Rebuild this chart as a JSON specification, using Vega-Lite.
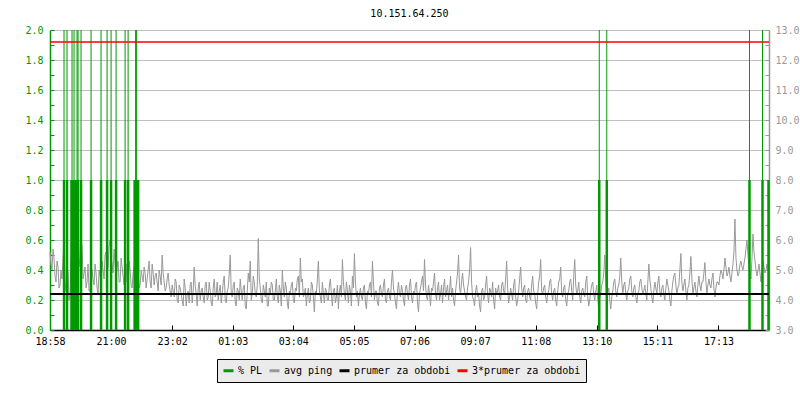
{
  "$schema": "https://vega.github.io/schema/vega-lite/v6.json",
  "width": 719,
  "height": 300,
  "autosize": {"type": "none"},
  "padding": {"left": 50, "top": 30, "right": 31, "bottom": 70},
  "background": "white",
  "title": {"text": "10.151.64.250", "font": "'DejaVu Sans Mono', monospace", "fontSize": 10, "fontWeight": "normal", "color": "black", "anchor": "middle", "offset": 6},
  "config": {"view": {"stroke": null}, "font": "'DejaVu Sans Mono', monospace"},
  "datasets": {
    "ping": [
      {"t":0,"p":5.6},{"t":4,"p":5.0},{"t":8,"p":5.4},{"t":12,"p":4.6},{"t":16,"p":5.1},{"t":20,"p":4.5},
      {"t":24,"p":4.7},{"t":28,"p":5.9},{"t":32,"p":4.3},{"t":36,"p":4.9},{"t":40,"p":4.2},{"t":44,"p":5.6},{"t":48,"p":4.6},
      {"t":52,"p":5.3},{"t":56,"p":6.6},{"t":60,"p":5.1},{"t":64,"p":5.8},
      {"t":68,"p":4.9},{"t":72,"p":4.4},{"t":76,"p":5.2},{"t":80,"p":4.3},{"t":84,"p":5.0},{"t":88,"p":4.5},{"t":92,"p":4.9},{"t":96,"p":4.2},{"t":100,"p":4.8},
      {"t":104,"p":5.3},{"t":108,"p":4.7},{"t":112,"p":5.6},{"t":116,"p":5.1},{"t":120,"p":6.0},{"t":124,"p":5.2},{"t":128,"p":5.7},
      {"t":132,"p":4.8},{"t":136,"p":5.3},{"t":140,"p":4.6},{"t":144,"p":5.1},{"t":148,"p":4.5},{"t":152,"p":5.2},{"t":156,"p":4.7},{"t":160,"p":5.0},{"t":164,"p":4.4},{"t":168,"p":5.1},{"t":172,"p":4.6},{"t":176,"p":4.9},{"t":180,"p":4.5},
      {"t":184,"p":4.8},{"t":188,"p":5.1},{"t":192,"p":4.4},{"t":196,"p":5.0},{"t":200,"p":4.6},{"t":204,"p":5.2},{"t":208,"p":4.5},{"t":212,"p":4.9},{"t":216,"p":4.3},{"t":220,"p":4.8},{"t":224,"p":5.5},{"t":228,"p":4.6},{"t":232,"p":4.4},{"t":236,"p":4.9},{"t":240,"p":4.3},
      {"t":244,"p":4.5},{"t":248,"p":4.1},{"t":252,"p":4.6},{"t":256,"p":3.9},{"t":260,"p":4.4},{"t":264,"p":4.0},{"t":268,"p":4.7},{"t":272,"p":3.8},{"t":276,"p":4.3},{"t":280,"p":4.5},{"t":284,"p":3.9},{"t":288,"p":5.1},{"t":292,"p":4.2},{"t":296,"p":4.4},{"t":300,"p":4.0},
      {"t":304,"p":4.4},{"t":308,"p":3.9},{"t":312,"p":4.6},{"t":316,"p":4.1},{"t":320,"p":4.3},{"t":324,"p":3.8},{"t":328,"p":4.7},{"t":332,"p":4.2},{"t":336,"p":4.0},{"t":340,"p":4.5},
      {"t":344,"p":4.2},{"t":348,"p":4.8},{"t":352,"p":3.9},{"t":356,"p":4.4},{"t":360,"p":5.5},{"t":364,"p":4.1},{"t":368,"p":4.6},{"t":372,"p":3.8},{"t":376,"p":4.3},{"t":380,"p":4.7},
      {"t":384,"p":4.0},{"t":388,"p":4.5},{"t":392,"p":3.7},{"t":396,"p":4.9},{"t":400,"p":5.3},{"t":404,"p":4.2},{"t":408,"p":4.6},{"t":412,"p":4.1},{"t":416,"p":6.05},{"t":420,"p":4.4},
      {"t":424,"p":3.9},{"t":428,"p":4.3},{"t":432,"p":4.6},{"t":436,"p":3.8},{"t":440,"p":4.2},{"t":444,"p":4.5},{"t":448,"p":4.0},{"t":452,"p":4.7},{"t":456,"p":3.9},{"t":460,"p":4.3},
      {"t":464,"p":5.0},{"t":468,"p":4.1},{"t":472,"p":4.4},{"t":476,"p":3.7},{"t":480,"p":4.2},{"t":484,"p":4.6},{"t":488,"p":3.9},{"t":492,"p":4.3},{"t":496,"p":4.8},{"t":500,"p":5.4},
      {"t":504,"p":4.7},{"t":508,"p":4.2},{"t":512,"p":3.8},{"t":516,"p":4.4},{"t":520,"p":4.0},{"t":524,"p":4.5},{"t":528,"p":3.6},{"t":532,"p":4.2},{"t":536,"p":5.3},{"t":540,"p":4.1},
      {"t":544,"p":4.6},{"t":548,"p":3.9},{"t":552,"p":4.3},{"t":556,"p":4.0},{"t":560,"p":4.7},{"t":564,"p":3.8},{"t":568,"p":4.4},{"t":572,"p":4.1},{"t":576,"p":3.7},{"t":580,"p":4.5},
      {"t":584,"p":5.35},{"t":588,"p":4.2},{"t":592,"p":4.6},{"t":596,"p":3.9},{"t":600,"p":4.3},{"t":604,"p":4.8},{"t":608,"p":5.55},{"t":612,"p":4.1},{"t":616,"p":3.8},{"t":620,"p":4.4},
      {"t":624,"p":4.0},{"t":628,"p":4.5},{"t":632,"p":3.7},{"t":636,"p":4.2},{"t":640,"p":4.6},{"t":644,"p":5.3},{"t":648,"p":4.0},{"t":652,"p":4.3},{"t":656,"p":3.8},{"t":660,"p":4.5},
      {"t":664,"p":4.1},{"t":668,"p":4.7},{"t":672,"p":3.9},{"t":676,"p":4.4},{"t":680,"p":4.0},{"t":684,"p":5.0},{"t":688,"p":4.2},{"t":692,"p":3.7},{"t":696,"p":4.6},{"t":700,"p":4.1},
      {"t":704,"p":4.3},{"t":708,"p":3.8},{"t":712,"p":4.5},{"t":716,"p":4.0},{"t":720,"p":4.7},{"t":724,"p":3.9},{"t":728,"p":4.2},{"t":732,"p":4.6},{"t":736,"p":3.6},{"t":740,"p":4.4},
      {"t":744,"p":4.8},{"t":748,"p":5.35},{"t":752,"p":4.1},{"t":756,"p":4.5},{"t":760,"p":3.8},{"t":764,"p":4.3},{"t":768,"p":4.9},{"t":772,"p":4.0},{"t":776,"p":4.6},{"t":780,"p":4.2},
      {"t":784,"p":3.9},{"t":788,"p":4.7},{"t":792,"p":4.3},{"t":796,"p":4.0},{"t":800,"p":4.8},{"t":804,"p":4.4},{"t":808,"p":3.8},{"t":812,"p":4.6},{"t":816,"p":5.5},{"t":820,"p":4.2},
      {"t":824,"p":4.9},{"t":828,"p":4.3},{"t":832,"p":4.0},{"t":836,"p":4.6},{"t":840,"p":5.75},{"t":844,"p":4.1},{"t":848,"p":3.8},{"t":852,"p":4.5},{"t":856,"p":4.2},{"t":860,"p":3.6},
      {"t":864,"p":4.4},{"t":868,"p":4.1},{"t":872,"p":4.8},{"t":876,"p":3.9},{"t":880,"p":4.3},{"t":884,"p":4.6},{"t":888,"p":3.7},{"t":892,"p":4.2},{"t":896,"p":4.5},{"t":900,"p":4.0},
      {"t":904,"p":4.6},{"t":908,"p":4.2},{"t":912,"p":5.3},{"t":916,"p":3.9},{"t":920,"p":4.4},{"t":924,"p":4.0},{"t":928,"p":4.7},{"t":932,"p":3.8},{"t":936,"p":4.3},{"t":940,"p":5.1},
      {"t":944,"p":4.1},{"t":948,"p":4.5},{"t":952,"p":3.9},{"t":956,"p":4.4},{"t":960,"p":4.0},{"t":964,"p":4.8},{"t":968,"p":4.2},{"t":972,"p":3.7},{"t":976,"p":4.6},{"t":980,"p":5.35},
      {"t":984,"p":4.2},{"t":988,"p":4.5},{"t":992,"p":3.9},{"t":996,"p":4.3},{"t":1000,"p":4.7},{"t":1004,"p":4.0},{"t":1008,"p":4.4},{"t":1012,"p":3.8},{"t":1016,"p":4.6},{"t":1020,"p":5.1},
      {"t":1024,"p":4.1},{"t":1028,"p":4.5},{"t":1032,"p":3.8},{"t":1036,"p":4.3},{"t":1040,"p":4.7},{"t":1044,"p":4.0},{"t":1048,"p":5.35},{"t":1052,"p":4.2},{"t":1056,"p":4.6},{"t":1060,"p":3.9},
      {"t":1064,"p":4.4},{"t":1068,"p":4.1},{"t":1072,"p":4.8},{"t":1076,"p":3.8},{"t":1080,"p":4.3},{"t":1084,"p":4.6},{"t":1088,"p":4.0},{"t":1092,"p":4.5},{"t":1096,"p":3.7},{"t":1100,"p":4.2},
      {"t":1104,"p":4.6},{"t":1108,"p":5.5},{"t":1112,"p":4.0},{"t":1116,"p":4.4},{"t":1120,"p":3.7},{"t":1124,"p":4.3},{"t":1128,"p":4.7},{"t":1132,"p":4.1},{"t":1136,"p":4.5},{"t":1140,"p":5.4},
      {"t":1144,"p":4.2},{"t":1148,"p":4.6},{"t":1152,"p":4.0},{"t":1156,"p":4.4},{"t":1160,"p":4.8},{"t":1164,"p":4.1},{"t":1168,"p":4.5},{"t":1172,"p":3.9},{"t":1176,"p":4.3},{"t":1180,"p":4.7},
      {"t":1184,"p":4.2},{"t":1188,"p":4.5},{"t":1192,"p":4.0},{"t":1196,"p":5.2},{"t":1200,"p":4.4},{"t":1204,"p":3.9},{"t":1208,"p":4.6},{"t":1212,"p":4.2},{"t":1216,"p":4.8},{"t":1220,"p":4.1},
      {"t":1224,"p":4.5},{"t":1228,"p":4.0},{"t":1232,"p":4.7},{"t":1236,"p":4.3},{"t":1240,"p":3.8},{"t":1244,"p":4.6},{"t":1248,"p":4.9},{"t":1252,"p":4.2},{"t":1256,"p":4.5},{"t":1260,"p":5.55},
      {"t":1264,"p":4.3},{"t":1268,"p":4.7},{"t":1272,"p":4.0},{"t":1276,"p":4.5},{"t":1280,"p":5.45},{"t":1284,"p":4.2},{"t":1288,"p":4.6},{"t":1292,"p":4.1},{"t":1296,"p":4.8},{"t":1300,"p":4.3},
      {"t":1304,"p":4.6},{"t":1308,"p":5.25},{"t":1312,"p":4.2},{"t":1316,"p":4.7},{"t":1320,"p":4.4},{"t":1324,"p":4.9},{"t":1328,"p":4.1},{"t":1332,"p":4.6},{"t":1336,"p":4.5},{"t":1340,"p":5.0},
      {"t":1344,"p":4.7},{"t":1348,"p":5.4},{"t":1352,"p":4.8},{"t":1356,"p":5.1},{"t":1360,"p":4.6},{"t":1364,"p":5.2},{"t":1368,"p":6.7},{"t":1372,"p":5.0},{"t":1376,"p":4.9},{"t":1380,"p":5.3},
      {"t":1384,"p":5.0},{"t":1388,"p":5.4},{"t":1392,"p":6.0},{"t":1396,"p":5.1},{"t":1400,"p":4.7},{"t":1404,"p":6.2},{"t":1408,"p":5.3},{"t":1412,"p":4.8},{"t":1416,"p":5.2},{"t":1420,"p":4.6},
      {"t":1424,"p":5.3},{"t":1428,"p":4.9},{"t":1432,"p":5.2},{"t":1436,"p":4.8},
      {"t":2,"p":5.2},{"t":6,"p":5.7},{"t":10,"p":4.8},{"t":14,"p":5.3},{"t":18,"p":4.4},{"t":22,"p":5.0},
      {"t":26,"p":5.4},{"t":30,"p":4.6},{"t":34,"p":5.1},{"t":38,"p":4.0},{"t":42,"p":5.3},{"t":46,"p":4.8},{"t":50,"p":5.0},
      {"t":54,"p":6.1},{"t":58,"p":5.4},{"t":62,"p":5.9},{"t":66,"p":4.7},
      {"t":70,"p":5.1},{"t":74,"p":4.6},{"t":78,"p":4.3},{"t":82,"p":5.1},{"t":86,"p":4.7},{"t":90,"p":5.2},{"t":94,"p":4.4},{"t":98,"p":5.0},{"t":102,"p":4.6},
      {"t":106,"p":5.0},{"t":110,"p":5.5},{"t":114,"p":4.9},{"t":118,"p":5.8},{"t":122,"p":5.4},{"t":126,"p":4.9},{"t":130,"p":5.2},
      {"t":134,"p":5.1},{"t":138,"p":4.6},{"t":142,"p":5.4},{"t":146,"p":4.8},{"t":150,"p":5.0},{"t":154,"p":4.6},{"t":158,"p":5.3},{"t":162,"p":4.5},{"t":166,"p":4.9},{"t":170,"p":4.7},{"t":174,"p":5.2},{"t":178,"p":4.4},{"t":182,"p":5.0},
      {"t":186,"p":4.6},{"t":190,"p":4.9},{"t":194,"p":4.7},{"t":198,"p":5.3},{"t":202,"p":4.4},{"t":206,"p":4.9},{"t":210,"p":4.8},{"t":214,"p":4.6},{"t":218,"p":5.0},{"t":222,"p":4.5},{"t":226,"p":4.9},{"t":230,"p":4.3},{"t":234,"p":4.7},{"t":238,"p":4.5},{"t":242,"p":4.1},
      {"t":246,"p":4.3},{"t":250,"p":4.7},{"t":254,"p":4.0},{"t":258,"p":4.5},{"t":262,"p":4.2},{"t":266,"p":3.8},{"t":270,"p":4.4},{"t":274,"p":4.2},{"t":278,"p":3.9},{"t":282,"p":4.6},{"t":286,"p":4.3},{"t":290,"p":4.5},{"t":294,"p":3.8},{"t":298,"p":4.6},{"t":302,"p":4.3},
      {"t":306,"p":4.1},{"t":310,"p":4.5},{"t":314,"p":4.0},{"t":318,"p":4.6},{"t":322,"p":3.9},{"t":326,"p":4.4},{"t":330,"p":4.1},{"t":334,"p":4.6},{"t":338,"p":4.3},{"t":342,"p":3.9},
      {"t":346,"p":4.6},{"t":350,"p":4.0},{"t":354,"p":4.3},{"t":358,"p":4.9},{"t":362,"p":4.2},{"t":366,"p":4.5},{"t":370,"p":3.9},{"t":374,"p":4.4},{"t":378,"p":4.0},{"t":382,"p":4.3},
      {"t":386,"p":4.4},{"t":390,"p":3.8},{"t":394,"p":4.3},{"t":398,"p":4.6},{"t":402,"p":4.0},{"t":406,"p":4.8},{"t":410,"p":4.2},{"t":414,"p":4.5},{"t":418,"p":4.7},{"t":422,"p":4.0},
      {"t":426,"p":4.5},{"t":430,"p":4.1},{"t":434,"p":3.8},{"t":438,"p":4.4},{"t":442,"p":4.6},{"t":446,"p":4.0},{"t":450,"p":4.3},{"t":454,"p":4.1},{"t":458,"p":4.5},{"t":462,"p":3.8},
      {"t":466,"p":4.4},{"t":470,"p":4.6},{"t":474,"p":3.9},{"t":478,"p":4.3},{"t":482,"p":4.5},{"t":486,"p":4.0},{"t":490,"p":4.4},{"t":494,"p":4.7},{"t":498,"p":4.1},{"t":502,"p":4.6},
      {"t":506,"p":4.1},{"t":510,"p":4.4},{"t":514,"p":4.2},{"t":518,"p":3.9},{"t":522,"p":4.6},{"t":526,"p":4.1},{"t":530,"p":4.3},{"t":534,"p":4.7},{"t":538,"p":4.3},{"t":542,"p":3.9},
      {"t":546,"p":4.2},{"t":550,"p":4.4},{"t":554,"p":4.0},{"t":558,"p":4.5},{"t":562,"p":4.2},{"t":566,"p":4.3},{"t":570,"p":3.9},{"t":574,"p":4.5},{"t":578,"p":4.3},{"t":582,"p":4.1},
      {"t":586,"p":4.6},{"t":590,"p":4.0},{"t":594,"p":4.3},{"t":598,"p":4.5},{"t":602,"p":3.8},{"t":606,"p":4.4},{"t":610,"p":4.6},{"t":614,"p":4.3},{"t":618,"p":4.2},{"t":622,"p":4.1},
      {"t":626,"p":4.4},{"t":630,"p":3.9},{"t":634,"p":4.3},{"t":638,"p":4.5},{"t":642,"p":4.1},{"t":646,"p":4.6},{"t":650,"p":4.3},{"t":654,"p":3.9},{"t":658,"p":4.4},{"t":662,"p":4.2},
      {"t":666,"p":4.5},{"t":670,"p":4.0},{"t":674,"p":4.3},{"t":678,"p":4.1},{"t":682,"p":4.6},{"t":686,"p":4.4},{"t":690,"p":3.9},{"t":694,"p":4.3},{"t":698,"p":4.2},{"t":702,"p":4.5},
      {"t":706,"p":4.0},{"t":710,"p":4.4},{"t":714,"p":4.2},{"t":718,"p":4.5},{"t":722,"p":4.1},{"t":726,"p":4.3},{"t":730,"p":4.5},{"t":734,"p":3.9},{"t":738,"p":4.2},{"t":742,"p":4.6},
      {"t":746,"p":4.3},{"t":750,"p":4.5},{"t":754,"p":4.0},{"t":758,"p":4.2},{"t":762,"p":4.4},{"t":766,"p":4.6},{"t":770,"p":4.2},{"t":774,"p":4.4},{"t":778,"p":4.0},{"t":782,"p":4.5},
      {"t":786,"p":4.4},{"t":790,"p":4.1},{"t":794,"p":4.5},{"t":798,"p":4.3},{"t":802,"p":4.1},{"t":806,"p":4.0},{"t":810,"p":4.3},{"t":814,"p":4.9},{"t":818,"p":4.4},{"t":822,"p":4.6},
      {"t":826,"p":4.5},{"t":830,"p":4.1},{"t":834,"p":4.4},{"t":838,"p":5.0},{"t":842,"p":4.6},{"t":846,"p":4.0},{"t":850,"p":4.3},{"t":854,"p":4.1},{"t":858,"p":3.8},{"t":862,"p":4.3},
      {"t":866,"p":4.0},{"t":870,"p":4.5},{"t":874,"p":4.2},{"t":878,"p":4.4},{"t":882,"p":4.1},{"t":886,"p":4.0},{"t":890,"p":4.4},{"t":894,"p":4.3},{"t":898,"p":4.1},{"t":902,"p":4.5},
      {"t":906,"p":4.3},{"t":910,"p":4.7},{"t":914,"p":4.4},{"t":918,"p":4.1},{"t":922,"p":4.2},{"t":926,"p":4.5},{"t":930,"p":4.1},{"t":934,"p":4.0},{"t":938,"p":4.7},{"t":942,"p":4.4},
      {"t":946,"p":4.4},{"t":950,"p":4.0},{"t":954,"p":4.3},{"t":958,"p":4.1},{"t":962,"p":4.5},{"t":966,"p":4.3},{"t":970,"p":3.9},{"t":974,"p":4.2},{"t":978,"p":4.8},{"t":982,"p":4.3},
      {"t":986,"p":4.4},{"t":990,"p":4.1},{"t":994,"p":4.2},{"t":998,"p":4.6},{"t":1002,"p":4.2},{"t":1006,"p":4.3},{"t":1010,"p":4.0},{"t":1014,"p":4.3},{"t":1018,"p":4.7},{"t":1022,"p":4.2},
      {"t":1026,"p":4.4},{"t":1030,"p":4.0},{"t":1034,"p":4.2},{"t":1038,"p":4.6},{"t":1042,"p":4.3},{"t":1046,"p":4.8},{"t":1050,"p":4.5},{"t":1054,"p":4.3},{"t":1058,"p":4.1},{"t":1062,"p":4.3},
      {"t":1066,"p":4.2},{"t":1070,"p":4.6},{"t":1074,"p":4.1},{"t":1078,"p":4.0},{"t":1082,"p":4.5},{"t":1086,"p":4.2},{"t":1090,"p":4.3},{"t":1094,"p":4.0},{"t":1098,"p":4.1},{"t":1102,"p":4.5},
      {"t":1106,"p":4.9},{"t":1110,"p":4.6},{"t":1114,"p":4.2},{"t":1118,"p":4.0},{"t":1122,"p":4.1},{"t":1126,"p":4.6},{"t":1130,"p":4.3},{"t":1134,"p":4.4},{"t":1138,"p":4.8},{"t":1142,"p":4.6},
      {"t":1146,"p":4.5},{"t":1150,"p":4.2},{"t":1154,"p":4.3},{"t":1158,"p":4.7},{"t":1162,"p":4.3},{"t":1166,"p":4.4},{"t":1170,"p":4.1},{"t":1174,"p":4.2},{"t":1178,"p":4.6},{"t":1182,"p":4.4},
      {"t":1186,"p":4.3},{"t":1190,"p":4.2},{"t":1194,"p":4.6},{"t":1198,"p":4.7},{"t":1202,"p":4.1},{"t":1206,"p":4.3},{"t":1210,"p":4.4},{"t":1214,"p":4.6},{"t":1218,"p":4.3},{"t":1222,"p":4.4},
      {"t":1226,"p":4.2},{"t":1230,"p":4.4},{"t":1234,"p":4.5},{"t":1238,"p":4.0},{"t":1242,"p":4.3},{"t":1246,"p":4.8},{"t":1250,"p":4.5},{"t":1254,"p":4.4},{"t":1258,"p":5.0},{"t":1262,"p":4.6},
      {"t":1266,"p":4.5},{"t":1270,"p":4.3},{"t":1274,"p":4.4},{"t":1278,"p":4.9},{"t":1282,"p":4.7},{"t":1286,"p":4.4},{"t":1290,"p":4.3},{"t":1294,"p":4.5},{"t":1298,"p":4.5},{"t":1302,"p":4.6},
      {"t":1306,"p":4.9},{"t":1310,"p":4.6},{"t":1314,"p":4.5},{"t":1318,"p":4.5},{"t":1322,"p":4.7},{"t":1326,"p":4.4},{"t":1330,"p":4.4},{"t":1334,"p":4.6},{"t":1338,"p":4.8},{"t":1342,"p":4.9},
      {"t":1346,"p":5.0},{"t":1350,"p":5.1},{"t":1354,"p":4.9},{"t":1358,"p":4.8},{"t":1362,"p":4.9},{"t":1366,"p":5.6},{"t":1370,"p":5.4},{"t":1374,"p":4.8},{"t":1378,"p":5.2},{"t":1382,"p":5.1},
      {"t":1386,"p":5.2},{"t":1390,"p":5.7},{"t":1394,"p":5.5},{"t":1398,"p":4.9},{"t":1402,"p":5.4},{"t":1406,"p":5.6},{"t":1410,"p":5.0},{"t":1414,"p":5.0},{"t":1418,"p":4.9},{"t":1422,"p":5.0},
      {"t":1426,"p":5.1},{"t":1430,"p":5.0},{"t":1434,"p":5.1}
    ],
    "pl": [
      {"t":28,"pl":2},{"t":34,"pl":2},{"t":43,"pl":1},{"t":44,"pl":2},{"t":48,"pl":2},{"t":51,"pl":1},
      {"t":54,"pl":2},{"t":56,"pl":2},{"t":62,"pl":2},{"t":82,"pl":2},{"t":102,"pl":2},{"t":114,"pl":2},
      {"t":122,"pl":2},{"t":132,"pl":2},{"t":150,"pl":2},{"t":156,"pl":2},{"t":169,"pl":1},{"t":171,"pl":2},
      {"t":173,"pl":2},{"t":176,"pl":1},{"t":1097,"pl":2},{"t":1112,"pl":2},{"t":1397,"pl":2},{"t":1423,"pl":2},
      {"t":1435,"pl":1}
    ]
  },
  "resolve": {"scale": {"y": "independent"}},
  "layer": [
    {
      "data": {"name": "ping"},
      "mark": {"type": "line", "strokeWidth": 1},
      "encoding": {
        "x": {
          "field": "t", "type": "quantitative",
          "scale": {"domain": [0, 1436], "nice": false, "zero": false},
          "axis": {
            "orient": "bottom", "title": null, "grid": false,
            "values": [0, 122, 244, 365, 486, 607, 728, 849, 970, 1092, 1213, 1335],
            "labelExpr": "timeFormat(datetime(2000, 0, 1, 18, 58 + datum.value), '%H:%M')",
            "labelFlush": false, "labelOverlap": false,
            "labelFont": "'DejaVu Sans Mono', monospace", "labelFontSize": 10, "labelColor": "black",
            "domainColor": "black", "domainWidth": 1.5,
            "tickColor": "black", "tickSize": -5, "labelPadding": 11
          }
        },
        "y": {
          "field": "p", "type": "quantitative",
          "scale": {"domain": [3, 13], "nice": false, "zero": false},
          "axis": {
            "orient": "right", "title": null, "grid": false,
            "values": [3, 3.5, 4, 4.5, 5, 5.5, 6, 6.5, 7, 7.5, 8, 8.5, 9, 9.5, 10, 10.5, 11, 11.5, 12, 12.5, 13],
            "labelExpr": "datum.value % 1 == 0 ? format(datum.value, '.1f') : ''",
            "labelOverlap": false, "labelBound": false,
            "labelFont": "'DejaVu Sans Mono', monospace", "labelFontSize": 10, "labelColor": "#999999",
            "domainColor": "#999999", "domainWidth": 1.5,
            "tickColor": "#999999", "tickSize": -4, "labelPadding": 10
          }
        },
        "color": {
          "datum": "avg ping", "type": "nominal",
          "scale": {
            "domain": ["% PL", "avg ping", "prumer za obdobi", "3*prumer za obdobi"],
            "range": ["#009900", "#999999", "#000000", "#ff0000"]
          },
          "legend": {
            "title": null, "orient": "none", "legendX": 167, "legendY": 329,
            "direction": "horizontal", "columns": 4,
            "symbolType": "stroke", "symbolSize": 100, "symbolStrokeWidth": 3,
            "labelFont": "'DejaVu Sans Mono', monospace", "labelFontSize": 10, "labelColor": "black",
            "fillColor": "#ebebeb", "strokeColor": "black", "padding": 5,
            "columnPadding": 0, "labelOffset": 3
          }
        }
      }
    },
    {
      "data": {"name": "pl"},
      "mark": {"type": "rule", "strokeWidth": 1},
      "encoding": {
        "x": {"field": "t", "type": "quantitative", "scale": {"domain": [0, 1436], "nice": false, "zero": false}, "axis": {"title": null}},
        "y": {
          "field": "pl", "type": "quantitative",
          "scale": {"domain": [0, 2], "nice": false, "zero": true},
          "axis": {
            "orient": "left", "title": null,
            "values": [0, 0.1, 0.2, 0.3, 0.4, 0.5, 0.6, 0.7, 0.8, 0.9, 1, 1.1, 1.2, 1.3, 1.4, 1.5, 1.6, 1.7, 1.8, 1.9, 2],
            "labelExpr": "round(datum.value * 10) % 2 == 0 ? format(datum.value, '.1f') : ''",
            "labelOverlap": false, "labelBound": false,
            "grid": true, "gridColor": "#c0c0c0", "gridWidth": 1,
            "gridOpacity": {"condition": {"test": "round(datum.value * 10) % 2 != 0", "value": 0}, "value": 1},
            "labelFont": "'DejaVu Sans Mono', monospace", "labelFontSize": 10, "labelColor": "#009900",
            "domainColor": "#009900", "domainWidth": 1.5,
            "tickColor": "#009900", "tickSize": -4, "labelPadding": 11
          }
        },
        "y2": {"datum": 0},
        "color": {"datum": "% PL", "type": "nominal"}
      }
    },
    {
      "data": {"name": "pl"},
      "mark": {"type": "rule", "strokeWidth": 2.5},
      "encoding": {
        "x": {"field": "t", "type": "quantitative", "scale": {"domain": [0, 1436], "nice": false, "zero": false}, "axis": {"title": null}},
        "y": {"datum": 0, "type": "quantitative", "scale": {"domain": [0, 2], "nice": false}, "axis": null},
        "y2": {"datum": 1},
        "color": {"datum": "% PL", "type": "nominal"}
      }
    },
    {
      "data": {"values": [{"v": 4.2}]},
      "mark": {"type": "rule", "strokeWidth": 2},
      "encoding": {
        "y": {"field": "v", "type": "quantitative", "scale": {"domain": [3, 13], "nice": false, "zero": false}, "axis": null},
        "color": {"datum": "prumer za obdobi", "type": "nominal"}
      }
    },
    {
      "data": {"values": [{"v": 12.6}]},
      "mark": {"type": "rule", "strokeWidth": 1.3},
      "encoding": {
        "y": {"field": "v", "type": "quantitative", "scale": {"domain": [3, 13], "nice": false, "zero": false}, "axis": null},
        "color": {"datum": "3*prumer za obdobi", "type": "nominal"}
      }
    }
  ]
}
